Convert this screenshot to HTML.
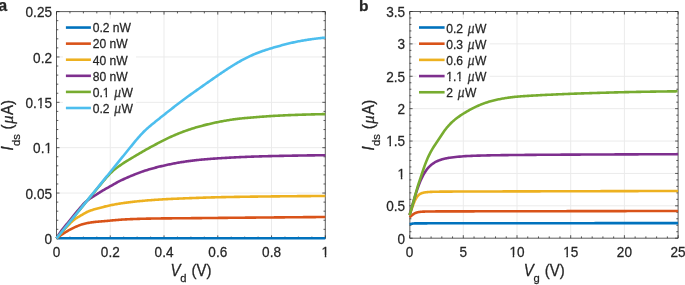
<!DOCTYPE html><html><head><meta charset="utf-8"><style>html,body{margin:0;padding:0;background:#fff;width:685px;height:285px;overflow:hidden}svg{display:block;will-change:transform}text{font-family:"Liberation Sans",sans-serif;fill:#262626;stroke:#262626;stroke-width:0.25px}.mu{font-family:"Liberation Serif",serif;font-style:italic}</style></head><body>
<svg width="685" height="285" viewBox="0 0 685 285">
<path d="M110.26 11.60V238.40M164.02 11.60V238.40M217.78 11.60V238.40M271.54 11.60V238.40M56.50 193.04H325.30M56.50 147.68H325.30M56.50 102.32H325.30M56.50 56.96H325.30" stroke="#ebebeb" stroke-width="1" fill="none"/>
<path d="M56.50 11.60H325.30V238.40H56.50Z" fill="none" stroke="#262626" stroke-width="0.75"/>
<path d="M56.50 238.40v-3.00M56.50 11.60v3.00M69.94 238.40v-1.80M69.94 11.60v1.80M83.38 238.40v-1.80M83.38 11.60v1.80M96.82 238.40v-1.80M96.82 11.60v1.80M110.26 238.40v-3.00M110.26 11.60v3.00M123.70 238.40v-1.80M123.70 11.60v1.80M137.14 238.40v-1.80M137.14 11.60v1.80M150.58 238.40v-1.80M150.58 11.60v1.80M164.02 238.40v-3.00M164.02 11.60v3.00M177.46 238.40v-1.80M177.46 11.60v1.80M190.90 238.40v-1.80M190.90 11.60v1.80M204.34 238.40v-1.80M204.34 11.60v1.80M217.78 238.40v-3.00M217.78 11.60v3.00M231.22 238.40v-1.80M231.22 11.60v1.80M244.66 238.40v-1.80M244.66 11.60v1.80M258.10 238.40v-1.80M258.10 11.60v1.80M271.54 238.40v-3.00M271.54 11.60v3.00M284.98 238.40v-1.80M284.98 11.60v1.80M298.42 238.40v-1.80M298.42 11.60v1.80M311.86 238.40v-1.80M311.86 11.60v1.80M325.30 238.40v-3.00M325.30 11.60v3.00M56.50 238.40h3.00M325.30 238.40h-3.00M56.50 229.33h1.80M325.30 229.33h-1.80M56.50 220.26h1.80M325.30 220.26h-1.80M56.50 211.18h1.80M325.30 211.18h-1.80M56.50 202.11h1.80M325.30 202.11h-1.80M56.50 193.04h3.00M325.30 193.04h-3.00M56.50 183.97h1.80M325.30 183.97h-1.80M56.50 174.90h1.80M325.30 174.90h-1.80M56.50 165.82h1.80M325.30 165.82h-1.80M56.50 156.75h1.80M325.30 156.75h-1.80M56.50 147.68h3.00M325.30 147.68h-3.00M56.50 138.61h1.80M325.30 138.61h-1.80M56.50 129.54h1.80M325.30 129.54h-1.80M56.50 120.46h1.80M325.30 120.46h-1.80M56.50 111.39h1.80M325.30 111.39h-1.80M56.50 102.32h3.00M325.30 102.32h-3.00M56.50 93.25h1.80M325.30 93.25h-1.80M56.50 84.18h1.80M325.30 84.18h-1.80M56.50 75.10h1.80M325.30 75.10h-1.80M56.50 66.03h1.80M325.30 66.03h-1.80M56.50 56.96h3.00M325.30 56.96h-3.00M56.50 47.89h1.80M325.30 47.89h-1.80M56.50 38.82h1.80M325.30 38.82h-1.80M56.50 29.74h1.80M325.30 29.74h-1.80M56.50 20.67h1.80M325.30 20.67h-1.80M56.50 11.60h3.00M325.30 11.60h-3.00" stroke="#262626" stroke-width="0.75" fill="none"/>
<text transform="translate(56.50 257.0) scale(1 1.055)" text-anchor="middle" font-size="13.6">0</text>
<text transform="translate(110.26 257.0) scale(1 1.055)" text-anchor="middle" font-size="13.6">0.2</text>
<text transform="translate(164.02 257.0) scale(1 1.055)" text-anchor="middle" font-size="13.6">0.4</text>
<text transform="translate(217.78 257.0) scale(1 1.055)" text-anchor="middle" font-size="13.6">0.6</text>
<text transform="translate(271.54 257.0) scale(1 1.055)" text-anchor="middle" font-size="13.6">0.8</text>
<text transform="translate(325.30 257.0) scale(1 1.055)" text-anchor="middle" font-size="13.6">1</text>
<text transform="translate(52.00 243.80) scale(1 1.055)" text-anchor="end" font-size="13.6">0</text>
<text transform="translate(52.00 198.94) scale(1 1.055)" text-anchor="end" font-size="13.6">0.05</text>
<text transform="translate(52.00 153.08) scale(1 1.055)" text-anchor="end" font-size="13.6">0.1</text>
<text transform="translate(52.00 107.72) scale(1 1.055)" text-anchor="end" font-size="13.6">0.15</text>
<text transform="translate(52.00 62.96) scale(1 1.055)" text-anchor="end" font-size="13.6">0.2</text>
<text transform="translate(52.00 17.00) scale(1 1.055)" text-anchor="end" font-size="13.6">0.25</text>
<path d="M463.30 11.50V238.20M517.00 11.50V238.20M570.70 11.50V238.20M624.40 11.50V238.20M409.60 205.81H678.10M409.60 173.43H678.10M409.60 141.04H678.10M409.60 108.66H678.10M409.60 76.27H678.10M409.60 43.89H678.10" stroke="#ebebeb" stroke-width="1" fill="none"/>
<path d="M409.85 11.50H678.10V238.20H409.85Z" fill="none" stroke="#262626" stroke-width="0.75"/>
<path d="M409.60 238.20v-3.00M409.60 11.50v3.00M420.34 238.20v-1.80M420.34 11.50v1.80M431.08 238.20v-1.80M431.08 11.50v1.80M441.82 238.20v-1.80M441.82 11.50v1.80M452.56 238.20v-1.80M452.56 11.50v1.80M463.30 238.20v-3.00M463.30 11.50v3.00M474.04 238.20v-1.80M474.04 11.50v1.80M484.78 238.20v-1.80M484.78 11.50v1.80M495.52 238.20v-1.80M495.52 11.50v1.80M506.26 238.20v-1.80M506.26 11.50v1.80M517.00 238.20v-3.00M517.00 11.50v3.00M527.74 238.20v-1.80M527.74 11.50v1.80M538.48 238.20v-1.80M538.48 11.50v1.80M549.22 238.20v-1.80M549.22 11.50v1.80M559.96 238.20v-1.80M559.96 11.50v1.80M570.70 238.20v-3.00M570.70 11.50v3.00M581.44 238.20v-1.80M581.44 11.50v1.80M592.18 238.20v-1.80M592.18 11.50v1.80M602.92 238.20v-1.80M602.92 11.50v1.80M613.66 238.20v-1.80M613.66 11.50v1.80M624.40 238.20v-3.00M624.40 11.50v3.00M635.14 238.20v-1.80M635.14 11.50v1.80M645.88 238.20v-1.80M645.88 11.50v1.80M656.62 238.20v-1.80M656.62 11.50v1.80M667.36 238.20v-1.80M667.36 11.50v1.80M678.10 238.20v-3.00M678.10 11.50v3.00M409.60 238.20h3.00M678.10 238.20h-3.00M409.60 231.72h1.80M678.10 231.72h-1.80M409.60 225.25h1.80M678.10 225.25h-1.80M409.60 218.77h1.80M678.10 218.77h-1.80M409.60 212.29h1.80M678.10 212.29h-1.80M409.60 205.81h3.00M678.10 205.81h-3.00M409.60 199.34h1.80M678.10 199.34h-1.80M409.60 192.86h1.80M678.10 192.86h-1.80M409.60 186.38h1.80M678.10 186.38h-1.80M409.60 179.91h1.80M678.10 179.91h-1.80M409.60 173.43h3.00M678.10 173.43h-3.00M409.60 166.95h1.80M678.10 166.95h-1.80M409.60 160.47h1.80M678.10 160.47h-1.80M409.60 154.00h1.80M678.10 154.00h-1.80M409.60 147.52h1.80M678.10 147.52h-1.80M409.60 141.04h3.00M678.10 141.04h-3.00M409.60 134.57h1.80M678.10 134.57h-1.80M409.60 128.09h1.80M678.10 128.09h-1.80M409.60 121.61h1.80M678.10 121.61h-1.80M409.60 115.13h1.80M678.10 115.13h-1.80M409.60 108.66h3.00M678.10 108.66h-3.00M409.60 102.18h1.80M678.10 102.18h-1.80M409.60 95.70h1.80M678.10 95.70h-1.80M409.60 89.23h1.80M678.10 89.23h-1.80M409.60 82.75h1.80M678.10 82.75h-1.80M409.60 76.27h3.00M678.10 76.27h-3.00M409.60 69.79h1.80M678.10 69.79h-1.80M409.60 63.32h1.80M678.10 63.32h-1.80M409.60 56.84h1.80M678.10 56.84h-1.80M409.60 50.36h1.80M678.10 50.36h-1.80M409.60 43.89h3.00M678.10 43.89h-3.00M409.60 37.41h1.80M678.10 37.41h-1.80M409.60 30.93h1.80M678.10 30.93h-1.80M409.60 24.45h1.80M678.10 24.45h-1.80M409.60 17.98h1.80M678.10 17.98h-1.80M409.60 11.50h3.00M678.10 11.50h-3.00" stroke="#262626" stroke-width="0.75" fill="none"/>
<text transform="translate(409.60 257.0) scale(1 1.055)" text-anchor="middle" font-size="13.6">0</text>
<text transform="translate(463.30 257.0) scale(1 1.055)" text-anchor="middle" font-size="13.6">5</text>
<text transform="translate(517.00 257.0) scale(1 1.055)" text-anchor="middle" font-size="13.6">10</text>
<text transform="translate(570.70 257.0) scale(1 1.055)" text-anchor="middle" font-size="13.6">15</text>
<text transform="translate(624.40 257.0) scale(1 1.055)" text-anchor="middle" font-size="13.6">20</text>
<text transform="translate(678.10 257.0) scale(1 1.055)" text-anchor="middle" font-size="13.6">25</text>
<text transform="translate(405.10 243.60) scale(1 1.055)" text-anchor="end" font-size="13.6">0</text>
<text transform="translate(405.10 211.21) scale(1 1.055)" text-anchor="end" font-size="13.6">0.5</text>
<text transform="translate(405.10 178.83) scale(1 1.055)" text-anchor="end" font-size="13.6">1</text>
<text transform="translate(405.10 146.44) scale(1 1.055)" text-anchor="end" font-size="13.6">1.5</text>
<text transform="translate(405.10 114.06) scale(1 1.055)" text-anchor="end" font-size="13.6">2</text>
<text transform="translate(405.10 81.67) scale(1 1.055)" text-anchor="end" font-size="13.6">2.5</text>
<text transform="translate(405.10 49.29) scale(1 1.055)" text-anchor="end" font-size="13.6">3</text>
<text transform="translate(405.10 16.90) scale(1 1.055)" text-anchor="end" font-size="13.6">3.5</text>
<rect x="63" y="18.8" width="73" height="98.2" fill="#fff"/>
<rect x="416.4" y="18.5" width="73.2" height="82.7" fill="#fff"/>
<path d="M56.50 238.2H325.30" stroke="#0072BD" stroke-width="2.6"/>
<path d="M56.50 238.40 57.50 237.64 58.50 236.88 59.50 236.15 60.50 235.44 61.50 234.75 62.50 234.09 63.50 233.44 64.50 232.82 65.50 232.21 66.50 231.62 67.50 231.05 68.50 230.48 69.50 229.94 70.50 229.40 71.50 228.88 72.50 228.37 73.50 227.87 74.50 227.40 75.50 226.94 76.50 226.50 77.50 226.07 78.50 225.66 79.50 225.26 80.50 224.88 81.50 224.53 82.50 224.22 83.50 223.94 84.50 223.68 85.50 223.45 86.50 223.23 87.50 223.03 88.50 222.85 89.50 222.68 90.50 222.52 91.50 222.37 92.50 222.23 93.50 222.11 94.50 222.00 95.50 221.89 96.50 221.79 97.50 221.70 98.50 221.62 99.50 221.54 100.50 221.46 101.50 221.38 102.50 221.30 103.50 221.22 104.50 221.13 105.50 221.05 106.50 220.96 107.50 220.87 108.50 220.77 109.50 220.68 110.50 220.58 111.50 220.49 112.50 220.39 113.50 220.30 114.50 220.20 115.50 220.11 116.50 220.02 117.50 219.93 118.50 219.85 119.50 219.77 120.50 219.70 121.50 219.63 122.50 219.56 123.50 219.50 124.50 219.44 125.50 219.39 126.50 219.33 127.50 219.29 128.50 219.24 129.50 219.20 130.50 219.15 131.50 219.11 132.50 219.08 133.50 219.04 134.50 219.00 135.50 218.97 136.50 218.94 137.50 218.90 138.50 218.87 139.50 218.84 140.50 218.81 141.50 218.79 142.50 218.76 143.50 218.73 144.50 218.71 145.50 218.68 146.50 218.66 147.50 218.64 148.50 218.62 149.50 218.60 150.50 218.58 151.50 218.56 152.50 218.54 153.50 218.52 154.50 218.51 155.50 218.49 156.50 218.48 157.50 218.46 158.50 218.45 159.50 218.44 160.50 218.43 161.50 218.42 162.50 218.40 163.50 218.39 164.50 218.39 165.50 218.38 166.50 218.37 167.50 218.36 168.50 218.35 169.50 218.34 170.50 218.34 171.50 218.33 172.50 218.32 173.50 218.31 174.50 218.31 175.50 218.30 176.50 218.29 177.50 218.28 178.50 218.28 179.50 218.27 180.50 218.26 181.50 218.25 182.50 218.25 183.50 218.24 184.50 218.23 185.50 218.22 186.50 218.21 187.50 218.20 188.50 218.20 189.50 218.19 190.50 218.18 191.50 218.17 192.50 218.16 193.50 218.15 194.50 218.14 195.50 218.13 196.50 218.13 197.50 218.12 198.50 218.11 199.50 218.10 200.50 218.09 201.50 218.08 202.50 218.07 203.50 218.06 204.50 218.05 205.50 218.04 206.50 218.03 207.50 218.02 208.50 218.01 209.50 218.00 210.50 217.99 211.50 217.98 212.50 217.97 213.50 217.96 214.50 217.96 215.50 217.95 216.50 217.94 217.50 217.93 218.50 217.92 219.50 217.91 220.50 217.90 221.50 217.89 222.50 217.88 223.50 217.87 224.50 217.86 225.50 217.85 226.50 217.84 227.50 217.83 228.50 217.82 229.50 217.81 230.50 217.80 231.50 217.79 232.50 217.78 233.50 217.78 234.50 217.77 235.50 217.76 236.50 217.75 237.50 217.74 238.50 217.73 239.50 217.72 240.50 217.71 241.50 217.70 242.50 217.69 243.50 217.68 244.50 217.68 245.50 217.67 246.50 217.66 247.50 217.65 248.50 217.64 249.50 217.63 250.50 217.62 251.50 217.61 252.50 217.61 253.50 217.60 254.50 217.59 255.50 217.58 256.50 217.57 257.50 217.56 258.50 217.55 259.50 217.55 260.50 217.54 261.50 217.53 262.50 217.52 263.50 217.51 264.50 217.50 265.50 217.49 266.50 217.49 267.50 217.48 268.50 217.47 269.50 217.46 270.50 217.45 271.50 217.44 272.50 217.43 273.50 217.43 274.50 217.42 275.50 217.41 276.50 217.40 277.50 217.39 278.50 217.38 279.50 217.37 280.50 217.37 281.50 217.36 282.50 217.35 283.50 217.34 284.50 217.33 285.50 217.32 286.50 217.32 287.50 217.31 288.50 217.30 289.50 217.29 290.50 217.28 291.50 217.27 292.50 217.27 293.50 217.26 294.50 217.25 295.50 217.24 296.50 217.23 297.50 217.22 298.50 217.22 299.50 217.21 300.50 217.20 301.50 217.19 302.50 217.18 303.50 217.17 304.50 217.17 305.50 217.16 306.50 217.15 307.50 217.14 308.50 217.13 309.50 217.12 310.50 217.12 311.50 217.11 312.50 217.10 313.50 217.09 314.50 217.08 315.50 217.08 316.50 217.07 317.50 217.06 318.50 217.05 319.50 217.05 320.50 217.04 321.50 217.03 322.50 217.02 323.50 217.02 324.50 217.01 325.30 217.01" stroke="#D95319" stroke-width="2.6" fill="none" stroke-linejoin="round"/>
<path d="M56.50 238.40 57.50 237.24 58.50 236.08 59.50 234.91 60.50 233.75 61.50 232.58 62.50 231.43 63.50 230.29 64.50 229.18 65.50 228.12 66.50 227.09 67.50 226.09 68.50 225.07 69.50 224.02 70.50 222.96 71.50 221.95 72.50 221.02 73.50 220.17 74.50 219.39 75.50 218.68 76.50 218.02 77.50 217.42 78.50 216.84 79.50 216.27 80.50 215.69 81.50 215.10 82.50 214.51 83.50 213.93 84.50 213.35 85.50 212.79 86.50 212.26 87.50 211.77 88.50 211.33 89.50 210.93 90.50 210.56 91.50 210.22 92.50 209.90 93.50 209.59 94.50 209.30 95.50 209.02 96.50 208.74 97.50 208.48 98.50 208.21 99.50 207.95 100.50 207.68 101.50 207.42 102.50 207.15 103.50 206.89 104.50 206.63 105.50 206.38 106.50 206.14 107.50 205.91 108.50 205.69 109.50 205.48 110.50 205.28 111.50 205.08 112.50 204.88 113.50 204.69 114.50 204.50 115.50 204.32 116.50 204.14 117.50 203.97 118.50 203.80 119.50 203.64 120.50 203.48 121.50 203.33 122.50 203.18 123.50 203.03 124.50 202.89 125.50 202.75 126.50 202.62 127.50 202.49 128.50 202.36 129.50 202.24 130.50 202.11 131.50 201.99 132.50 201.88 133.50 201.76 134.50 201.65 135.50 201.54 136.50 201.44 137.50 201.33 138.50 201.23 139.50 201.13 140.50 201.04 141.50 200.94 142.50 200.85 143.50 200.76 144.50 200.67 145.50 200.58 146.50 200.50 147.50 200.42 148.50 200.33 149.50 200.26 150.50 200.18 151.50 200.10 152.50 200.03 153.50 199.95 154.50 199.88 155.50 199.81 156.50 199.74 157.50 199.68 158.50 199.61 159.50 199.55 160.50 199.49 161.50 199.43 162.50 199.37 163.50 199.32 164.50 199.26 165.50 199.21 166.50 199.15 167.50 199.10 168.50 199.05 169.50 199.01 170.50 198.96 171.50 198.91 172.50 198.87 173.50 198.82 174.50 198.78 175.50 198.73 176.50 198.69 177.50 198.65 178.50 198.61 179.50 198.56 180.50 198.52 181.50 198.48 182.50 198.44 183.50 198.40 184.50 198.36 185.50 198.32 186.50 198.28 187.50 198.24 188.50 198.20 189.50 198.17 190.50 198.13 191.50 198.09 192.50 198.05 193.50 198.01 194.50 197.98 195.50 197.94 196.50 197.91 197.50 197.87 198.50 197.83 199.50 197.80 200.50 197.77 201.50 197.73 202.50 197.70 203.50 197.67 204.50 197.63 205.50 197.60 206.50 197.57 207.50 197.54 208.50 197.51 209.50 197.48 210.50 197.45 211.50 197.42 212.50 197.40 213.50 197.37 214.50 197.34 215.50 197.32 216.50 197.29 217.50 197.27 218.50 197.24 219.50 197.22 220.50 197.20 221.50 197.17 222.50 197.15 223.50 197.13 224.50 197.11 225.50 197.09 226.50 197.07 227.50 197.05 228.50 197.03 229.50 197.01 230.50 196.99 231.50 196.97 232.50 196.95 233.50 196.94 234.50 196.92 235.50 196.90 236.50 196.88 237.50 196.87 238.50 196.85 239.50 196.83 240.50 196.82 241.50 196.80 242.50 196.78 243.50 196.77 244.50 196.75 245.50 196.74 246.50 196.72 247.50 196.71 248.50 196.69 249.50 196.68 250.50 196.67 251.50 196.65 252.50 196.64 253.50 196.63 254.50 196.61 255.50 196.60 256.50 196.59 257.50 196.58 258.50 196.56 259.50 196.55 260.50 196.54 261.50 196.53 262.50 196.52 263.50 196.50 264.50 196.49 265.50 196.48 266.50 196.47 267.50 196.46 268.50 196.45 269.50 196.44 270.50 196.43 271.50 196.42 272.50 196.41 273.50 196.40 274.50 196.38 275.50 196.37 276.50 196.36 277.50 196.35 278.50 196.34 279.50 196.33 280.50 196.32 281.50 196.31 282.50 196.30 283.50 196.29 284.50 196.28 285.50 196.28 286.50 196.27 287.50 196.26 288.50 196.25 289.50 196.24 290.50 196.23 291.50 196.22 292.50 196.21 293.50 196.20 294.50 196.19 295.50 196.19 296.50 196.18 297.50 196.17 298.50 196.16 299.50 196.15 300.50 196.15 301.50 196.14 302.50 196.13 303.50 196.12 304.50 196.12 305.50 196.11 306.50 196.10 307.50 196.10 308.50 196.09 309.50 196.08 310.50 196.08 311.50 196.07 312.50 196.06 313.50 196.06 314.50 196.05 315.50 196.05 316.50 196.04 317.50 196.04 318.50 196.03 319.50 196.03 320.50 196.02 321.50 196.02 322.50 196.02 323.50 196.01 324.50 196.01 325.30 196.00" stroke="#EDB120" stroke-width="2.6" fill="none" stroke-linejoin="round"/>
<path d="M56.50 238.42 57.50 236.67 58.50 235.00 59.50 233.43 60.50 231.98 61.50 230.63 62.50 229.36 63.50 228.13 64.50 226.90 65.50 225.67 66.50 224.43 67.50 223.20 68.50 221.96 69.50 220.72 70.50 219.47 71.50 218.23 72.50 216.99 73.50 215.75 74.50 214.52 75.50 213.31 76.50 212.11 77.50 210.93 78.50 209.75 79.50 208.58 80.50 207.40 81.50 206.22 82.50 205.07 83.50 203.98 84.50 202.98 85.50 202.06 86.50 201.21 87.50 200.41 88.50 199.66 89.50 198.96 90.50 198.28 91.50 197.63 92.50 197.00 93.50 196.37 94.50 195.76 95.50 195.14 96.50 194.51 97.50 193.86 98.50 193.21 99.50 192.56 100.50 191.91 101.50 191.29 102.50 190.68 103.50 190.09 104.50 189.51 105.50 188.95 106.50 188.38 107.50 187.83 108.50 187.27 109.50 186.71 110.50 186.15 111.50 185.58 112.50 185.01 113.50 184.44 114.50 183.87 115.50 183.31 116.50 182.76 117.50 182.22 118.50 181.70 119.50 181.18 120.50 180.69 121.50 180.20 122.50 179.73 123.50 179.26 124.50 178.80 125.50 178.35 126.50 177.90 127.50 177.46 128.50 177.03 129.50 176.60 130.50 176.17 131.50 175.75 132.50 175.33 133.50 174.93 134.50 174.52 135.50 174.13 136.50 173.73 137.50 173.35 138.50 172.97 139.50 172.60 140.50 172.24 141.50 171.88 142.50 171.53 143.50 171.19 144.50 170.85 145.50 170.53 146.50 170.21 147.50 169.90 148.50 169.59 149.50 169.29 150.50 169.00 151.50 168.72 152.50 168.44 153.50 168.16 154.50 167.89 155.50 167.63 156.50 167.37 157.50 167.11 158.50 166.86 159.50 166.61 160.50 166.37 161.50 166.13 162.50 165.90 163.50 165.67 164.50 165.44 165.50 165.21 166.50 164.99 167.50 164.78 168.50 164.56 169.50 164.36 170.50 164.15 171.50 163.95 172.50 163.75 173.50 163.56 174.50 163.37 175.50 163.19 176.50 163.00 177.50 162.83 178.50 162.65 179.50 162.48 180.50 162.32 181.50 162.15 182.50 161.99 183.50 161.84 184.50 161.68 185.50 161.54 186.50 161.39 187.50 161.25 188.50 161.11 189.50 160.98 190.50 160.84 191.50 160.72 192.50 160.59 193.50 160.47 194.50 160.36 195.50 160.24 196.50 160.13 197.50 160.03 198.50 159.92 199.50 159.82 200.50 159.73 201.50 159.63 202.50 159.54 203.50 159.45 204.50 159.36 205.50 159.28 206.50 159.20 207.50 159.12 208.50 159.04 209.50 158.96 210.50 158.88 211.50 158.81 212.50 158.74 213.50 158.66 214.50 158.59 215.50 158.52 216.50 158.46 217.50 158.39 218.50 158.32 219.50 158.26 220.50 158.19 221.50 158.13 222.50 158.07 223.50 158.01 224.50 157.95 225.50 157.89 226.50 157.83 227.50 157.77 228.50 157.71 229.50 157.66 230.50 157.60 231.50 157.55 232.50 157.50 233.50 157.45 234.50 157.40 235.50 157.35 236.50 157.30 237.50 157.25 238.50 157.20 239.50 157.16 240.50 157.11 241.50 157.07 242.50 157.02 243.50 156.98 244.50 156.94 245.50 156.90 246.50 156.86 247.50 156.82 248.50 156.78 249.50 156.74 250.50 156.70 251.50 156.67 252.50 156.63 253.50 156.60 254.50 156.56 255.50 156.53 256.50 156.50 257.50 156.47 258.50 156.43 259.50 156.40 260.50 156.38 261.50 156.35 262.50 156.32 263.50 156.29 264.50 156.26 265.50 156.24 266.50 156.21 267.50 156.19 268.50 156.16 269.50 156.14 270.50 156.12 271.50 156.09 272.50 156.07 273.50 156.05 274.50 156.03 275.50 156.00 276.50 155.98 277.50 155.96 278.50 155.94 279.50 155.92 280.50 155.90 281.50 155.88 282.50 155.86 283.50 155.84 284.50 155.82 285.50 155.80 286.50 155.78 287.50 155.76 288.50 155.74 289.50 155.72 290.50 155.70 291.50 155.68 292.50 155.67 293.50 155.65 294.50 155.63 295.50 155.61 296.50 155.60 297.50 155.58 298.50 155.56 299.50 155.55 300.50 155.53 301.50 155.51 302.50 155.50 303.50 155.48 304.50 155.47 305.50 155.45 306.50 155.44 307.50 155.42 308.50 155.41 309.50 155.39 310.50 155.38 311.50 155.37 312.50 155.35 313.50 155.34 314.50 155.33 315.50 155.32 316.50 155.30 317.50 155.29 318.50 155.28 319.50 155.27 320.50 155.26 321.50 155.25 322.50 155.24 323.50 155.23 324.50 155.22 325.30 155.21" stroke="#7E2F8E" stroke-width="2.6" fill="none" stroke-linejoin="round"/>
<path d="M56.50 238.40 57.50 237.17 58.50 235.94 59.50 234.72 60.50 233.49 61.50 232.26 62.50 231.03 63.50 229.80 64.50 228.57 65.50 227.34 66.50 226.11 67.50 224.88 68.50 223.65 69.50 222.42 70.50 221.18 71.50 219.95 72.50 218.71 73.50 217.48 74.50 216.24 75.50 215.00 76.50 213.77 77.50 212.53 78.50 211.29 79.50 210.06 80.50 208.82 81.50 207.59 82.50 206.36 83.50 205.14 84.50 203.91 85.50 202.69 86.50 201.48 87.50 200.26 88.50 199.05 89.50 197.84 90.50 196.63 91.50 195.42 92.50 194.22 93.50 193.01 94.50 191.81 95.50 190.61 96.50 189.41 97.50 188.21 98.50 187.00 99.50 185.80 100.50 184.60 101.50 183.39 102.50 182.19 103.50 181.00 104.50 179.82 105.50 178.65 106.50 177.50 107.50 176.37 108.50 175.28 109.50 174.22 110.50 173.19 111.50 172.21 112.50 171.27 113.50 170.38 114.50 169.53 115.50 168.72 116.50 167.96 117.50 167.23 118.50 166.53 119.50 165.84 120.50 165.15 121.50 164.46 122.50 163.77 123.50 163.10 124.50 162.44 125.50 161.81 126.50 161.19 127.50 160.60 128.50 160.00 129.50 159.41 130.50 158.81 131.50 158.21 132.50 157.61 133.50 157.01 134.50 156.41 135.50 155.81 136.50 155.22 137.50 154.63 138.50 154.04 139.50 153.45 140.50 152.87 141.50 152.28 142.50 151.71 143.50 151.13 144.50 150.56 145.50 149.99 146.50 149.43 147.50 148.87 148.50 148.31 149.50 147.76 150.50 147.21 151.50 146.66 152.50 146.12 153.50 145.58 154.50 145.04 155.50 144.51 156.50 143.98 157.50 143.45 158.50 142.92 159.50 142.40 160.50 141.88 161.50 141.36 162.50 140.85 163.50 140.35 164.50 139.85 165.50 139.35 166.50 138.87 167.50 138.39 168.50 137.91 169.50 137.44 170.50 136.98 171.50 136.53 172.50 136.08 173.50 135.64 174.50 135.21 175.50 134.78 176.50 134.36 177.50 133.94 178.50 133.53 179.50 133.13 180.50 132.74 181.50 132.35 182.50 131.97 183.50 131.59 184.50 131.22 185.50 130.86 186.50 130.50 187.50 130.16 188.50 129.82 189.50 129.48 190.50 129.15 191.50 128.83 192.50 128.52 193.50 128.21 194.50 127.90 195.50 127.61 196.50 127.31 197.50 127.02 198.50 126.74 199.50 126.46 200.50 126.18 201.50 125.91 202.50 125.65 203.50 125.38 204.50 125.12 205.50 124.87 206.50 124.62 207.50 124.38 208.50 124.14 209.50 123.90 210.50 123.67 211.50 123.44 212.50 123.22 213.50 123.00 214.50 122.79 215.50 122.57 216.50 122.37 217.50 122.16 218.50 121.96 219.50 121.77 220.50 121.57 221.50 121.38 222.50 121.20 223.50 121.01 224.50 120.83 225.50 120.66 226.50 120.49 227.50 120.32 228.50 120.16 229.50 120.00 230.50 119.84 231.50 119.69 232.50 119.55 233.50 119.41 234.50 119.27 235.50 119.14 236.50 119.01 237.50 118.89 238.50 118.77 239.50 118.65 240.50 118.54 241.50 118.43 242.50 118.33 243.50 118.23 244.50 118.13 245.50 118.03 246.50 117.94 247.50 117.85 248.50 117.76 249.50 117.68 250.50 117.59 251.50 117.51 252.50 117.43 253.50 117.35 254.50 117.27 255.50 117.19 256.50 117.11 257.50 117.04 258.50 116.96 259.50 116.89 260.50 116.81 261.50 116.74 262.50 116.66 263.50 116.59 264.50 116.52 265.50 116.45 266.50 116.38 267.50 116.31 268.50 116.24 269.50 116.17 270.50 116.11 271.50 116.04 272.50 115.98 273.50 115.92 274.50 115.86 275.50 115.80 276.50 115.74 277.50 115.68 278.50 115.63 279.50 115.58 280.50 115.53 281.50 115.48 282.50 115.43 283.50 115.38 284.50 115.33 285.50 115.29 286.50 115.25 287.50 115.20 288.50 115.16 289.50 115.12 290.50 115.08 291.50 115.05 292.50 115.01 293.50 114.97 294.50 114.94 295.50 114.90 296.50 114.87 297.50 114.83 298.50 114.80 299.50 114.77 300.50 114.74 301.50 114.71 302.50 114.67 303.50 114.64 304.50 114.61 305.50 114.58 306.50 114.56 307.50 114.53 308.50 114.50 309.50 114.47 310.50 114.45 311.50 114.42 312.50 114.39 313.50 114.37 314.50 114.34 315.50 114.32 316.50 114.30 317.50 114.27 318.50 114.25 319.50 114.23 320.50 114.21 321.50 114.19 322.50 114.17 323.50 114.15 324.50 114.13 325.30 114.12" stroke="#77AC30" stroke-width="2.6" fill="none" stroke-linejoin="round"/>
<path d="M56.50 238.40 57.50 237.17 58.50 235.93 59.50 234.70 60.50 233.47 61.50 232.23 62.50 231.00 63.50 229.76 64.50 228.53 65.50 227.30 66.50 226.06 67.50 224.83 68.50 223.59 69.50 222.36 70.50 221.13 71.50 219.89 72.50 218.66 73.50 217.42 74.50 216.19 75.50 214.95 76.50 213.72 77.50 212.49 78.50 211.25 79.50 210.02 80.50 208.78 81.50 207.55 82.50 206.31 83.50 205.08 84.50 203.84 85.50 202.61 86.50 201.37 87.50 200.14 88.50 198.90 89.50 197.67 90.50 196.43 91.50 195.20 92.50 193.96 93.50 192.73 94.50 191.49 95.50 190.26 96.50 189.02 97.50 187.79 98.50 186.55 99.50 185.32 100.50 184.08 101.50 182.85 102.50 181.62 103.50 180.38 104.50 179.15 105.50 177.92 106.50 176.68 107.50 175.45 108.50 174.22 109.50 172.98 110.50 171.75 111.50 170.51 112.50 169.28 113.50 168.04 114.50 166.80 115.50 165.57 116.50 164.33 117.50 163.10 118.50 161.86 119.50 160.63 120.50 159.40 121.50 158.16 122.50 156.93 123.50 155.70 124.50 154.47 125.50 153.23 126.50 152.00 127.50 150.76 128.50 149.52 129.50 148.28 130.50 147.05 131.50 145.82 132.50 144.59 133.50 143.37 134.50 142.15 135.50 140.95 136.50 139.76 137.50 138.58 138.50 137.42 139.50 136.29 140.50 135.18 141.50 134.09 142.50 133.04 143.50 132.02 144.50 131.04 145.50 130.08 146.50 129.15 147.50 128.25 148.50 127.37 149.50 126.51 150.50 125.67 151.50 124.84 152.50 124.03 153.50 123.21 154.50 122.41 155.50 121.60 156.50 120.80 157.50 120.00 158.50 119.20 159.50 118.40 160.50 117.60 161.50 116.80 162.50 116.01 163.50 115.21 164.50 114.42 165.50 113.63 166.50 112.84 167.50 112.06 168.50 111.27 169.50 110.49 170.50 109.71 171.50 108.93 172.50 108.15 173.50 107.37 174.50 106.59 175.50 105.81 176.50 105.04 177.50 104.26 178.50 103.49 179.50 102.72 180.50 101.96 181.50 101.20 182.50 100.45 183.50 99.70 184.50 98.96 185.50 98.22 186.50 97.49 187.50 96.77 188.50 96.05 189.50 95.33 190.50 94.62 191.50 93.91 192.50 93.20 193.50 92.49 194.50 91.78 195.50 91.08 196.50 90.37 197.50 89.66 198.50 88.95 199.50 88.24 200.50 87.53 201.50 86.82 202.50 86.12 203.50 85.41 204.50 84.71 205.50 84.00 206.50 83.30 207.50 82.60 208.50 81.90 209.50 81.20 210.50 80.50 211.50 79.81 212.50 79.11 213.50 78.41 214.50 77.72 215.50 77.02 216.50 76.33 217.50 75.64 218.50 74.96 219.50 74.27 220.50 73.59 221.50 72.91 222.50 72.23 223.50 71.56 224.50 70.90 225.50 70.23 226.50 69.57 227.50 68.92 228.50 68.27 229.50 67.63 230.50 66.99 231.50 66.36 232.50 65.73 233.50 65.12 234.50 64.51 235.50 63.90 236.50 63.31 237.50 62.72 238.50 62.14 239.50 61.56 240.50 61.00 241.50 60.45 242.50 59.90 243.50 59.37 244.50 58.84 245.50 58.32 246.50 57.81 247.50 57.32 248.50 56.83 249.50 56.36 250.50 55.89 251.50 55.44 252.50 54.99 253.50 54.56 254.50 54.13 255.50 53.72 256.50 53.32 257.50 52.92 258.50 52.54 259.50 52.17 260.50 51.80 261.50 51.44 262.50 51.09 263.50 50.75 264.50 50.41 265.50 50.08 266.50 49.76 267.50 49.44 268.50 49.13 269.50 48.82 270.50 48.51 271.50 48.21 272.50 47.91 273.50 47.62 274.50 47.33 275.50 47.04 276.50 46.75 277.50 46.47 278.50 46.19 279.50 45.91 280.50 45.63 281.50 45.36 282.50 45.09 283.50 44.82 284.50 44.56 285.50 44.30 286.50 44.05 287.50 43.79 288.50 43.55 289.50 43.31 290.50 43.07 291.50 42.84 292.50 42.61 293.50 42.39 294.50 42.17 295.50 41.96 296.50 41.75 297.50 41.55 298.50 41.35 299.50 41.16 300.50 40.97 301.50 40.79 302.50 40.61 303.50 40.44 304.50 40.27 305.50 40.11 306.50 39.95 307.50 39.80 308.50 39.65 309.50 39.50 310.50 39.35 311.50 39.21 312.50 39.08 313.50 38.94 314.50 38.81 315.50 38.69 316.50 38.56 317.50 38.44 318.50 38.32 319.50 38.21 320.50 38.10 321.50 37.99 322.50 37.88 323.50 37.78 324.50 37.68 325.30 37.58" stroke="#4DBEEE" stroke-width="2.6" fill="none" stroke-linejoin="round"/>
<path d="M409.60 224.12 410.10 224.03 410.60 223.95 411.10 223.87 411.60 223.78 412.10 223.70 412.60 223.62 413.10 223.54 413.60 223.48 414.10 223.43 414.60 223.39 415.10 223.37 415.60 223.36 416.10 223.35 416.60 223.34 417.10 223.34 417.60 223.34 418.10 223.34 418.60 223.33 419.10 223.33 419.60 223.33 420.10 223.33 420.60 223.33 421.10 223.33 421.60 223.33 422.10 223.33 422.60 223.33 423.10 223.33 423.60 223.33 424.10 223.33 424.60 223.33 425.10 223.33 425.60 223.33 426.10 223.33 426.60 223.33 427.10 223.33 427.60 223.32 428.10 223.32 428.60 223.32 429.10 223.32 429.60 223.32 430.10 223.32 430.60 223.32 431.10 223.32 431.60 223.32 432.10 223.32 432.60 223.32 433.10 223.32 433.60 223.32 434.10 223.32 434.60 223.32 435.10 223.32 435.60 223.32 436.10 223.32 436.60 223.32 437.10 223.32 437.60 223.32 438.10 223.32 438.60 223.31 439.10 223.31 439.60 223.31 440.10 223.31 440.60 223.31 441.10 223.31 441.60 223.31 442.10 223.31 442.60 223.31 443.10 223.31 443.60 223.31 444.10 223.31 444.60 223.31 445.10 223.31 445.60 223.31 446.10 223.31 446.60 223.31 447.10 223.31 447.60 223.31 448.10 223.31 448.60 223.31 449.10 223.31 449.60 223.30 451.60 223.30 453.60 223.30 455.60 223.30 457.60 223.30 459.60 223.30 461.60 223.29 463.60 223.29 465.60 223.29 467.60 223.29 469.60 223.29 471.60 223.29 473.60 223.28 475.60 223.28 477.60 223.28 479.60 223.28 481.60 223.28 483.60 223.27 485.60 223.27 487.60 223.27 489.60 223.27 491.60 223.27 493.60 223.27 495.60 223.26 497.60 223.26 499.60 223.26 501.60 223.26 503.60 223.26 505.60 223.25 507.60 223.25 509.60 223.25 511.60 223.25 513.60 223.25 515.60 223.25 517.60 223.24 519.60 223.24 521.60 223.24 523.60 223.24 525.60 223.24 527.60 223.23 529.60 223.23 531.60 223.23 533.60 223.23 535.60 223.23 537.60 223.23 539.60 223.22 541.60 223.22 543.60 223.22 545.60 223.22 547.60 223.22 549.60 223.22 551.60 223.21 553.60 223.21 555.60 223.21 557.60 223.21 559.60 223.21 561.60 223.20 563.60 223.20 565.60 223.20 567.60 223.20 569.60 223.20 571.60 223.20 573.60 223.19 575.60 223.19 577.60 223.19 579.60 223.19 581.60 223.19 583.60 223.18 585.60 223.18 587.60 223.18 589.60 223.18 591.60 223.18 593.60 223.18 595.60 223.17 597.60 223.17 599.60 223.17 601.60 223.17 603.60 223.17 605.60 223.16 607.60 223.16 609.60 223.16 611.60 223.16 613.60 223.16 615.60 223.16 617.60 223.15 619.60 223.15 621.60 223.15 623.60 223.15 625.60 223.15 627.60 223.15 629.60 223.14 631.60 223.14 633.60 223.14 635.60 223.14 637.60 223.14 639.60 223.13 641.60 223.13 643.60 223.13 645.60 223.13 647.60 223.13 649.60 223.13 651.60 223.12 653.60 223.12 655.60 223.12 657.60 223.12 659.60 223.12 661.60 223.11 663.60 223.11 665.60 223.11 667.60 223.11 669.60 223.11 671.60 223.11 673.60 223.10 675.60 223.10 677.60 223.10 678.10 223.10" stroke="#0072BD" stroke-width="2.6" fill="none" stroke-linejoin="round"/>
<path d="M409.60 217.30 410.10 216.87 410.60 216.44 411.10 216.01 411.60 215.59 412.10 215.17 412.60 214.78 413.10 214.40 413.60 214.05 414.10 213.73 414.60 213.44 415.10 213.17 415.60 212.94 416.10 212.74 416.60 212.57 417.10 212.42 417.60 212.29 418.10 212.18 418.60 212.08 419.10 212.00 419.60 211.93 420.10 211.87 420.60 211.81 421.10 211.77 421.60 211.73 422.10 211.70 422.60 211.67 423.10 211.64 423.60 211.62 424.10 211.60 424.60 211.58 425.10 211.56 425.60 211.55 426.10 211.53 426.60 211.52 427.10 211.51 427.60 211.50 428.10 211.49 428.60 211.49 429.10 211.48 429.60 211.47 430.10 211.47 430.60 211.46 431.10 211.46 431.60 211.45 432.10 211.45 432.60 211.44 433.10 211.44 433.60 211.43 434.10 211.43 434.60 211.43 435.10 211.43 435.60 211.42 436.10 211.42 436.60 211.42 437.10 211.41 437.60 211.41 438.10 211.41 438.60 211.41 439.10 211.41 439.60 211.40 440.10 211.40 440.60 211.40 441.10 211.40 441.60 211.40 442.10 211.39 442.60 211.39 443.10 211.39 443.60 211.39 444.10 211.39 444.60 211.39 445.10 211.39 445.60 211.38 446.10 211.38 446.60 211.38 447.10 211.38 447.60 211.38 448.10 211.38 448.60 211.38 449.10 211.38 449.60 211.37 451.60 211.37 453.60 211.37 455.60 211.36 457.60 211.36 459.60 211.35 461.60 211.35 463.60 211.35 465.60 211.34 467.60 211.34 469.60 211.33 471.60 211.33 473.60 211.33 475.60 211.32 477.60 211.32 479.60 211.32 481.60 211.31 483.60 211.31 485.60 211.31 487.60 211.30 489.60 211.30 491.60 211.30 493.60 211.29 495.60 211.29 497.60 211.29 499.60 211.28 501.60 211.28 503.60 211.28 505.60 211.27 507.60 211.27 509.60 211.27 511.60 211.26 513.60 211.26 515.60 211.26 517.60 211.25 519.60 211.25 521.60 211.25 523.60 211.24 525.60 211.24 527.60 211.24 529.60 211.23 531.60 211.23 533.60 211.23 535.60 211.22 537.60 211.22 539.60 211.22 541.60 211.22 543.60 211.21 545.60 211.21 547.60 211.21 549.60 211.20 551.60 211.20 553.60 211.20 555.60 211.19 557.60 211.19 559.60 211.19 561.60 211.18 563.60 211.18 565.60 211.18 567.60 211.17 569.60 211.17 571.60 211.17 573.60 211.16 575.60 211.16 577.60 211.16 579.60 211.15 581.60 211.15 583.60 211.15 585.60 211.14 587.60 211.14 589.60 211.14 591.60 211.13 593.60 211.13 595.60 211.13 597.60 211.12 599.60 211.12 601.60 211.12 603.60 211.11 605.60 211.11 607.60 211.11 609.60 211.10 611.60 211.10 613.60 211.10 615.60 211.09 617.60 211.09 619.60 211.09 621.60 211.08 623.60 211.08 625.60 211.08 627.60 211.07 629.60 211.07 631.60 211.07 633.60 211.07 635.60 211.06 637.60 211.06 639.60 211.06 641.60 211.05 643.60 211.05 645.60 211.05 647.60 211.04 649.60 211.04 651.60 211.04 653.60 211.03 655.60 211.03 657.60 211.03 659.60 211.02 661.60 211.02 663.60 211.02 665.60 211.01 667.60 211.01 669.60 211.01 671.60 211.00 673.60 211.00 675.60 211.00 677.60 210.99 678.10 210.99" stroke="#D95319" stroke-width="2.6" fill="none" stroke-linejoin="round"/>
<path d="M409.60 215.15 410.10 213.68 410.60 212.22 411.10 210.76 411.60 209.31 412.10 207.87 412.60 206.46 413.10 205.09 413.60 203.76 414.10 202.50 414.60 201.32 415.10 200.22 415.60 199.21 416.10 198.29 416.60 197.47 417.10 196.75 417.60 196.11 418.10 195.55 418.60 195.06 419.10 194.63 419.60 194.27 420.10 193.95 420.60 193.68 421.10 193.44 421.60 193.23 422.10 193.05 422.60 192.90 423.10 192.76 423.60 192.64 424.10 192.54 424.60 192.45 425.10 192.37 425.60 192.29 426.10 192.23 426.60 192.18 427.10 192.12 427.60 192.08 428.10 192.04 428.60 192.00 429.10 191.97 429.60 191.94 430.10 191.91 430.60 191.89 431.10 191.87 431.60 191.85 432.10 191.83 432.60 191.81 433.10 191.80 433.60 191.78 434.10 191.77 434.60 191.76 435.10 191.74 435.60 191.73 436.10 191.72 436.60 191.71 437.10 191.71 437.60 191.70 438.10 191.69 438.60 191.68 439.10 191.68 439.60 191.67 440.10 191.66 440.60 191.66 441.10 191.65 441.60 191.65 442.10 191.64 442.60 191.64 443.10 191.63 443.60 191.63 444.10 191.63 444.60 191.62 445.10 191.62 445.60 191.61 446.10 191.61 446.60 191.61 447.10 191.60 447.60 191.60 448.10 191.60 448.60 191.60 449.10 191.59 449.60 191.59 451.60 191.58 453.60 191.57 455.60 191.56 457.60 191.55 459.60 191.55 461.60 191.54 463.60 191.53 465.60 191.53 467.60 191.52 469.60 191.51 471.60 191.51 473.60 191.50 475.60 191.50 477.60 191.49 479.60 191.49 481.60 191.48 483.60 191.47 485.60 191.47 487.60 191.46 489.60 191.46 491.60 191.45 493.60 191.45 495.60 191.44 497.60 191.44 499.60 191.43 501.60 191.43 503.60 191.42 505.60 191.42 507.60 191.41 509.60 191.41 511.60 191.40 513.60 191.39 515.60 191.39 517.60 191.38 519.60 191.38 521.60 191.37 523.60 191.37 525.60 191.36 527.60 191.36 529.60 191.35 531.60 191.35 533.60 191.34 535.60 191.34 537.60 191.33 539.60 191.33 541.60 191.32 543.60 191.32 545.60 191.31 547.60 191.31 549.60 191.30 551.60 191.30 553.60 191.29 555.60 191.29 557.60 191.28 559.60 191.28 561.60 191.27 563.60 191.27 565.60 191.26 567.60 191.26 569.60 191.25 571.60 191.25 573.60 191.24 575.60 191.24 577.60 191.23 579.60 191.23 581.60 191.22 583.60 191.22 585.60 191.21 587.60 191.21 589.60 191.20 591.60 191.20 593.60 191.19 595.60 191.19 597.60 191.18 599.60 191.18 601.60 191.17 603.60 191.17 605.60 191.16 607.60 191.16 609.60 191.15 611.60 191.15 613.60 191.14 615.60 191.14 617.60 191.13 619.60 191.12 621.60 191.12 623.60 191.11 625.60 191.11 627.60 191.10 629.60 191.10 631.60 191.09 633.60 191.09 635.60 191.08 637.60 191.08 639.60 191.07 641.60 191.07 643.60 191.06 645.60 191.06 647.60 191.05 649.60 191.05 651.60 191.04 653.60 191.04 655.60 191.03 657.60 191.03 659.60 191.02 661.60 191.02 663.60 191.01 665.60 191.01 667.60 191.00 669.60 191.00 671.60 190.99 673.60 190.99 675.60 190.98 677.60 190.98 678.10 190.98" stroke="#EDB120" stroke-width="2.6" fill="none" stroke-linejoin="round"/>
<path d="M409.60 214.98 410.10 213.22 410.60 211.45 411.10 209.70 411.60 207.94 412.10 206.20 412.60 204.47 413.10 202.75 413.60 201.04 414.10 199.36 414.60 197.70 415.10 196.07 415.60 194.47 416.10 192.90 416.60 191.36 417.10 189.87 417.60 188.41 418.10 187.00 418.60 185.63 419.10 184.30 419.60 183.02 420.10 181.79 420.60 180.60 421.10 179.46 421.60 178.37 422.10 177.32 422.60 176.31 423.10 175.36 423.60 174.44 424.10 173.57 424.60 172.73 425.10 171.94 425.60 171.19 426.10 170.47 426.60 169.79 427.10 169.14 427.60 168.52 428.10 167.93 428.60 167.38 429.10 166.85 429.60 166.34 430.10 165.87 430.60 165.41 431.10 164.98 431.60 164.57 432.10 164.19 432.60 163.82 433.10 163.47 433.60 163.13 434.10 162.81 434.60 162.51 435.10 162.22 435.60 161.95 436.10 161.69 436.60 161.44 437.10 161.20 437.60 160.98 438.10 160.76 438.60 160.56 439.10 160.36 439.60 160.17 440.10 159.99 440.60 159.82 441.10 159.66 441.60 159.50 442.10 159.35 442.60 159.21 443.10 159.07 443.60 158.94 444.10 158.82 444.60 158.69 445.10 158.58 445.60 158.47 446.10 158.36 446.60 158.26 447.10 158.16 447.60 158.06 448.10 157.97 448.60 157.89 449.10 157.80 449.60 157.72 451.60 157.42 453.60 157.17 455.60 156.94 457.60 156.75 459.60 156.58 461.60 156.43 463.60 156.29 465.60 156.17 467.60 156.06 469.60 155.97 471.60 155.88 473.60 155.80 475.60 155.73 477.60 155.66 479.60 155.60 481.60 155.54 483.60 155.49 485.60 155.44 487.60 155.40 489.60 155.36 491.60 155.32 493.60 155.29 495.60 155.25 497.60 155.22 499.60 155.19 501.60 155.16 503.60 155.14 505.60 155.11 507.60 155.09 509.60 155.06 511.60 155.04 513.60 155.02 515.60 155.00 517.60 154.98 519.60 154.96 521.60 154.94 523.60 154.93 525.60 154.91 527.60 154.89 529.60 154.88 531.60 154.86 533.60 154.85 535.60 154.83 537.60 154.82 539.60 154.81 541.60 154.79 543.60 154.78 545.60 154.77 547.60 154.76 549.60 154.74 551.60 154.73 553.60 154.72 555.60 154.71 557.60 154.70 559.60 154.69 561.60 154.67 563.60 154.66 565.60 154.65 567.60 154.64 569.60 154.63 571.60 154.62 573.60 154.61 575.60 154.60 577.60 154.59 579.60 154.58 581.60 154.57 583.60 154.56 585.60 154.55 587.60 154.54 589.60 154.54 591.60 154.53 593.60 154.52 595.60 154.51 597.60 154.50 599.60 154.49 601.60 154.48 603.60 154.47 605.60 154.46 607.60 154.45 609.60 154.45 611.60 154.44 613.60 154.43 615.60 154.42 617.60 154.41 619.60 154.40 621.60 154.39 623.60 154.39 625.60 154.38 627.60 154.37 629.60 154.36 631.60 154.35 633.60 154.34 635.60 154.34 637.60 154.33 639.60 154.32 641.60 154.31 643.60 154.30 645.60 154.30 647.60 154.29 649.60 154.28 651.60 154.27 653.60 154.26 655.60 154.26 657.60 154.25 659.60 154.24 661.60 154.23 663.60 154.22 665.60 154.22 667.60 154.21 669.60 154.20 671.60 154.19 673.60 154.19 675.60 154.18 677.60 154.17 678.10 154.17" stroke="#7E2F8E" stroke-width="2.6" fill="none" stroke-linejoin="round"/>
<path d="M409.60 215.01 410.60 211.61 411.60 208.17 412.60 204.67 413.60 201.10 414.60 197.47 415.60 193.81 416.60 190.23 417.60 186.81 418.60 183.60 419.60 180.56 420.60 177.62 421.60 174.69 422.60 171.73 423.60 168.78 424.60 165.89 425.60 163.16 426.60 160.64 427.60 158.32 428.60 156.16 429.60 154.13 430.60 152.21 431.60 150.39 432.60 148.67 433.60 147.04 434.60 145.48 435.60 143.99 436.60 142.53 437.60 141.07 438.60 139.60 439.60 138.08 440.60 136.55 441.60 135.00 442.60 133.47 443.60 131.98 444.60 130.56 445.60 129.21 446.60 127.95 447.60 126.76 448.60 125.64 449.60 124.56 450.60 123.53 451.60 122.55 452.60 121.61 453.60 120.72 454.60 119.87 455.60 119.05 456.60 118.28 457.60 117.53 458.60 116.82 459.60 116.12 460.60 115.45 461.60 114.79 462.60 114.15 463.60 113.51 464.60 112.89 465.60 112.28 466.60 111.69 467.60 111.11 468.60 110.54 469.60 109.98 470.60 109.43 471.60 108.90 472.60 108.37 473.60 107.86 474.60 107.36 475.60 106.88 476.60 106.40 477.60 105.95 478.60 105.50 479.60 105.08 480.60 104.66 481.60 104.26 482.60 103.87 483.60 103.50 484.60 103.14 485.60 102.80 486.60 102.47 487.60 102.15 488.60 101.84 489.60 101.55 490.60 101.26 491.60 100.99 492.60 100.73 493.60 100.48 494.60 100.23 495.60 100.00 496.60 99.78 497.60 99.56 498.60 99.35 499.60 99.15 500.60 98.95 501.60 98.77 502.60 98.58 503.60 98.41 504.60 98.24 505.60 98.08 506.60 97.92 507.60 97.77 508.60 97.62 509.60 97.48 510.60 97.35 511.60 97.23 512.60 97.11 513.60 96.99 514.60 96.89 515.60 96.79 516.60 96.69 517.60 96.60 518.60 96.52 519.60 96.43 520.60 96.36 521.60 96.28 522.60 96.21 523.60 96.15 524.60 96.08 525.60 96.02 526.60 95.95 527.60 95.89 528.60 95.83 529.60 95.77 530.60 95.72 531.60 95.66 532.60 95.60 533.60 95.55 534.60 95.49 535.60 95.44 536.60 95.38 537.60 95.33 538.60 95.28 539.60 95.22 540.60 95.17 541.60 95.12 542.60 95.07 543.60 95.02 544.60 94.97 545.60 94.92 546.60 94.87 547.60 94.82 548.60 94.77 549.60 94.72 550.60 94.68 551.60 94.63 552.60 94.58 553.60 94.54 554.60 94.49 555.60 94.44 556.60 94.40 557.60 94.35 558.60 94.31 559.60 94.27 560.60 94.22 561.60 94.18 562.60 94.14 563.60 94.09 564.60 94.05 565.60 94.01 566.60 93.97 567.60 93.93 568.60 93.89 569.60 93.85 570.60 93.81 571.60 93.78 572.60 93.74 573.60 93.70 574.60 93.66 575.60 93.63 576.60 93.59 577.60 93.56 578.60 93.52 579.60 93.49 580.60 93.45 581.60 93.42 582.60 93.38 583.60 93.35 584.60 93.32 585.60 93.28 586.60 93.25 587.60 93.22 588.60 93.19 589.60 93.16 590.60 93.13 591.60 93.09 592.60 93.06 593.60 93.03 594.60 93.00 595.60 92.97 596.60 92.94 597.60 92.91 598.60 92.88 599.60 92.85 600.60 92.82 601.60 92.79 602.60 92.76 603.60 92.73 604.60 92.71 605.60 92.68 606.60 92.65 607.60 92.62 608.60 92.59 609.60 92.56 610.60 92.53 611.60 92.51 612.60 92.48 613.60 92.45 614.60 92.42 615.60 92.40 616.60 92.37 617.60 92.34 618.60 92.32 619.60 92.29 620.60 92.27 621.60 92.24 622.60 92.22 623.60 92.19 624.60 92.17 625.60 92.15 626.60 92.12 627.60 92.10 628.60 92.08 629.60 92.06 630.60 92.04 631.60 92.01 632.60 91.99 633.60 91.97 634.60 91.95 635.60 91.93 636.60 91.91 637.60 91.90 638.60 91.88 639.60 91.86 640.60 91.84 641.60 91.82 642.60 91.80 643.60 91.78 644.60 91.77 645.60 91.75 646.60 91.73 647.60 91.71 648.60 91.70 649.60 91.68 650.60 91.66 651.60 91.65 652.60 91.63 653.60 91.61 654.60 91.60 655.60 91.58 656.60 91.57 657.60 91.55 658.60 91.54 659.60 91.52 660.60 91.51 661.60 91.49 662.60 91.48 663.60 91.47 664.60 91.45 665.60 91.44 666.60 91.43 667.60 91.41 668.60 91.40 669.60 91.39 670.60 91.38 671.60 91.37 672.60 91.36 673.60 91.35 674.60 91.34 675.60 91.33 676.60 91.32 677.60 91.31" stroke="#77AC30" stroke-width="2.6" fill="none" stroke-linejoin="round"/>
<path d="M65.90 27.55H90.90" stroke="#0072BD" stroke-width="2.6"/>
<text transform="translate(92.70 32.35) scale(1 1.04)" font-size="12.1">0.2 nW</text>
<path d="M65.90 43.64H90.90" stroke="#D95319" stroke-width="2.6"/>
<text transform="translate(92.70 48.44) scale(1 1.04)" font-size="12.1">20 nW</text>
<path d="M65.90 59.73H90.90" stroke="#EDB120" stroke-width="2.6"/>
<text transform="translate(92.70 64.53) scale(1 1.04)" font-size="12.1">40 nW</text>
<path d="M65.90 75.82H90.90" stroke="#7E2F8E" stroke-width="2.6"/>
<text transform="translate(92.70 80.62) scale(1 1.04)" font-size="12.1">80 nW</text>
<path d="M65.90 91.91H90.90" stroke="#77AC30" stroke-width="2.6"/>
<text transform="translate(92.70 96.71) scale(1 1.04)" font-size="12.1">0.1 <tspan class="mu" font-size="13.5" dx="1.5" fill="#3a3a3a">μ</tspan><tspan dx="0.4">W</tspan></text>
<path d="M65.90 108.00H90.90" stroke="#4DBEEE" stroke-width="2.6"/>
<text transform="translate(92.70 112.80) scale(1 1.04)" font-size="12.1">0.2 <tspan class="mu" font-size="13.5" dx="1.5" fill="#3a3a3a">μ</tspan><tspan dx="0.4">W</tspan></text>
<path d="M419.00 27.50H444.60" stroke="#0072BD" stroke-width="2.6"/>
<text transform="translate(446.20 32.60) scale(1 1.04)" font-size="12.1">0.2 <tspan class="mu" font-size="13.5" dx="1.5" fill="#3a3a3a">μ</tspan><tspan dx="0.4">W</tspan></text>
<path d="M419.00 43.69H444.60" stroke="#D95319" stroke-width="2.6"/>
<text transform="translate(446.20 48.79) scale(1 1.04)" font-size="12.1">0.3 <tspan class="mu" font-size="13.5" dx="1.5" fill="#3a3a3a">μ</tspan><tspan dx="0.4">W</tspan></text>
<path d="M419.00 59.88H444.60" stroke="#EDB120" stroke-width="2.6"/>
<text transform="translate(446.20 64.98) scale(1 1.04)" font-size="12.1">0.6 <tspan class="mu" font-size="13.5" dx="1.5" fill="#3a3a3a">μ</tspan><tspan dx="0.4">W</tspan></text>
<path d="M419.00 76.07H444.60" stroke="#7E2F8E" stroke-width="2.6"/>
<text transform="translate(446.20 81.17) scale(1 1.04)" font-size="12.1">1.1 <tspan class="mu" font-size="13.5" dx="1.5" fill="#3a3a3a">μ</tspan><tspan dx="0.4">W</tspan></text>
<path d="M419.00 92.26H444.60" stroke="#77AC30" stroke-width="2.6"/>
<text transform="translate(446.20 97.36) scale(1 1.04)" font-size="12.1">2 <tspan class="mu" font-size="13.5" dx="1.5" fill="#3a3a3a">μ</tspan><tspan dx="0.4">W</tspan></text>
<text transform="translate(170.40 275.8) scale(1 1.05)" font-size="15"><tspan font-style="italic">V</tspan><tspan font-size="11.2" dy="6.3" dx="-0.1">d</tspan><tspan dy="-6.3" dx="0.8"> (V)</tspan></text>
<text transform="translate(523.70 275.8) scale(1 1.05)" font-size="15"><tspan font-style="italic">V</tspan><tspan font-size="11.2" dy="6.3" dx="-0.1">g</tspan><tspan dy="-6.3" dx="0.8"> (V)</tspan></text>
<text transform="translate(12.70 150.60) rotate(-90) scale(1 1.05)" font-size="15"><tspan font-style="italic">I</tspan><tspan font-size="11.2" dy="6.5" dx="0.4">ds</tspan><tspan dy="-6.5" dx="0.6"> (</tspan><tspan class="mu" font-size="16.5" dx="0.6">μ</tspan><tspan dx="0.6">A)</tspan></text>
<text transform="translate(373.60 150.50) rotate(-90) scale(1 1.05)" font-size="15"><tspan font-style="italic">I</tspan><tspan font-size="11.2" dy="6.5" dx="0.4">ds</tspan><tspan dy="-6.5" dx="0.6"> (</tspan><tspan class="mu" font-size="16.5" dx="0.6">μ</tspan><tspan dx="0.6">A)</tspan></text>
<path d="M321.00 255.00h3.77v3.00h-3.77ZM326.31 255.00h2.69v3.00h-2.69ZM44.00 151.00h3.69v3.00h-3.69ZM49.23 151.00h2.77v3.00h-2.77ZM37.00 106.00h3.12v3.00h-3.12ZM41.66 106.00h3.16v3.00h-3.16ZM509.00 255.00h3.69v3.00h-3.69ZM514.23 255.00h2.77v3.00h-2.77ZM563.00 255.00h3.39v3.00h-3.39ZM567.93 255.00h3.07v3.00h-3.07ZM398.00 177.00h2.79v3.00h-2.79ZM402.33 177.00h2.67v3.00h-2.67ZM386.00 144.00h3.44v3.00h-3.44ZM390.99 144.00h3.01v3.00h-3.01ZM103.00 95.00h2.66v3.00h-2.66ZM107.07 95.00h2.80v3.00h-2.80ZM446.00 79.00h3.07v3.00h-3.07ZM450.48 79.00h2.52v3.00h-2.52ZM456.00 79.00h3.16v3.00h-3.16ZM460.57 79.00h2.43v3.00h-2.43Z" fill="#fff"/>
<text x="-1.7" y="10.5" font-size="16" font-weight="bold" fill="#000">a</text>
<text x="359" y="10.7" font-size="15.5" font-weight="bold" fill="#000">b</text>
</svg></body></html>
